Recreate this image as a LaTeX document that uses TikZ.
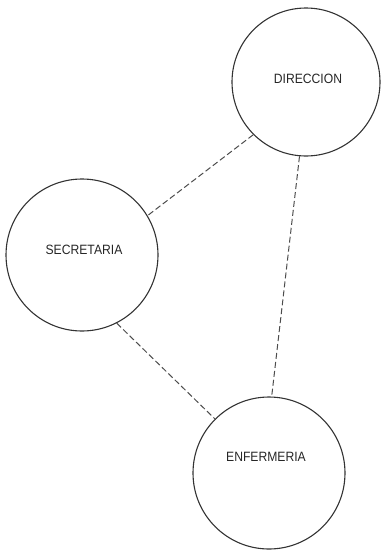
\documentclass[tikz,border=0pt]{standalone}
\usepackage{fontspec}
\setmainfont{Liberation Sans}
\usepackage{graphicx}
\begin{document}
\begin{tikzpicture}[x=1pt,y=-1pt,
  unit/.style={circle,draw=black!80,line width=1.1pt,minimum size=#1,inner sep=0pt},
  lbl/.style={font=\fontsize{13.5}{15}\selectfont,text=black!85,inner sep=0pt},
  link/.style={draw=black!70,line width=1pt,dash pattern=on 6pt off 3pt}]
  \useasboundingbox (0,0) rectangle (382,550);
  % offices
  \node[unit=148pt] (dir) at (306,82) {};
  \node[unit=152pt] (sec) at (82,255) {};
  \node[unit=152pt] (enf) at (269,473) {};
  % office names
  \node[lbl] (dirt) at (308,79) {\scalebox{0.9}[1]{DIRECCION}};
  \node[lbl] (sect) at (84,250) {\scalebox{0.9}[1]{SECRETARIA}};
  \node[lbl] (enft) at (266,457) {\scalebox{0.9}[1]{ENFERMERIA}};
  % communication links
  \draw[link] (dir.225) -- (sec.31);
  \draw[link] (dir.265) -- (enf.88);
  \draw[link] (sec.297) -- (enf.135);
\end{tikzpicture}
\end{document}
